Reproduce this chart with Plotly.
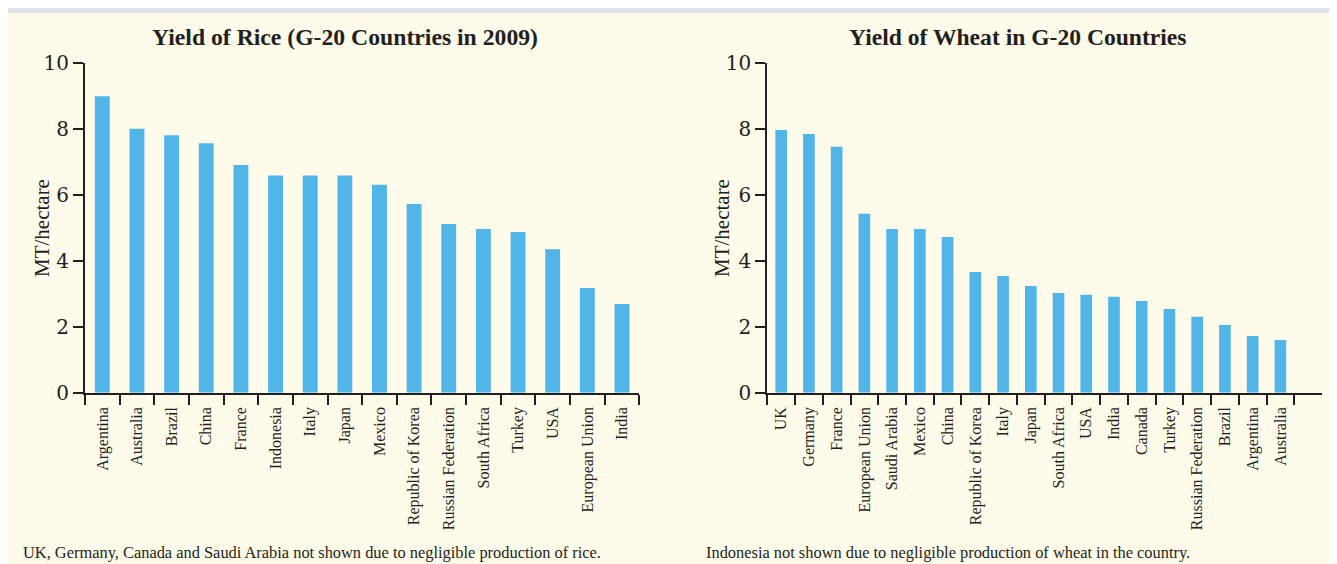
import plotly.graph_objects as go

# ---------------- data ----------------
rice_countries = ["Argentina", "Australia", "Brazil", "China", "France", "Indonesia",
                  "Italy", "Japan", "Mexico", "Republic of Korea", "Russian Federation",
                  "South Africa", "Turkey", "USA", "European Union", "India"]
rice_yield = [8.98, 8.0, 7.8, 7.56, 6.9, 6.58, 6.58, 6.58, 6.3, 5.72, 5.11,
              4.96, 4.87, 4.35, 3.17, 2.69]

wheat_countries = ["UK", "Germany", "France", "European Union", "Saudi Arabia", "Mexico",
                   "China", "Republic of Korea", "Italy", "Japan", "South Africa", "USA",
                   "India", "Canada", "Turkey", "Russian Federation", "Brazil",
                   "Argentina", "Australia"]
wheat_yield = [7.96, 7.84, 7.45, 5.42, 4.96, 4.96, 4.72, 3.66, 3.54, 3.23, 3.02,
               2.97, 2.91, 2.78, 2.54, 2.3, 2.05, 1.72, 1.6]

y_ticks = [0, 2, 4, 6, 8, 10]

rice_title = "Yield of Rice (G-20 Countries in 2009)"
wheat_title = "Yield of Wheat in G-20 Countries"
y_title = "MT/hectare"
rice_note = "UK, Germany, Canada and Saudi Arabia not shown due to negligible production of rice."
wheat_note = "Indonesia not shown due to negligible production of wheat in the country."

# ---------------- style ----------------
# the page body has an 8px margin, so the figure is drawn 8px in from the top-left
OFF = 8
W, H = 1337 - OFF, 564 - OFF
BG = "#FEFBEA"
BAR = "#52B5E8"
INK = "#231F20"
SERIF = "Liberation Serif"
WIDE_SERIF = "DejaVu Serif"


def px(x):  # screen x -> paper fraction
    return (x - OFF) / W


def py(y):  # screen y -> paper fraction
    return 1 - (y - OFF) / H


fig = go.Figure()

fig.add_trace(go.Bar(x=rice_countries, y=rice_yield, marker_color=BAR,
                     marker_line_width=0, width=0.43, xaxis="x", yaxis="y",
                     showlegend=False, hoverinfo="x+y"))
# trailing empty slot on the wheat axis, as in the original
fig.add_trace(go.Bar(x=wheat_countries + [" "], y=wheat_yield + [None], marker_color=BAR,
                     marker_line_width=0, width=0.42, xaxis="x2", yaxis="y2",
                     showlegend=False, hoverinfo="x+y"))

xcommon = dict(type="category", tickson="boundaries", ticks="outside", ticklen=10,
               tickwidth=1.5, tickcolor=INK, showline=True, linecolor=INK, linewidth=2,
               tickangle=-90, tickfont=dict(family=SERIF, size=16, color=INK),
               ticklabelstandoff=6, automargin=False,
               showgrid=False, zeroline=False, fixedrange=True)
ycommon = dict(range=[0, 10], tickvals=y_ticks, ticks="outside", ticklen=10,
               tickwidth=1.5, tickcolor=INK, showline=True, linecolor=INK, linewidth=2,
               tickfont=dict(family=WIDE_SERIF, size=20, color=INK), showgrid=False,
               zeroline=False, fixedrange=True, automargin=False,
               domain=[py(392.7), py(62.7)])

fig.update_layout(
    width=W, height=H, autosize=False,
    margin=dict(l=0, r=0, t=0, b=0, pad=0, autoexpand=False),
    paper_bgcolor=BG, plot_bgcolor=BG,
    xaxis=dict(xcommon, domain=[px(85), px(639.3)], anchor="y",
               range=[-0.5, len(rice_countries) - 0.5]),
    yaxis=dict(ycommon, anchor="x"),
    xaxis2=dict(xcommon, domain=[px(767.3), px(1322)], anchor="y2",
                range=[-0.5, len(wheat_countries) + 0.5]),
    yaxis2=dict(ycommon, anchor="x2"),
    shapes=[
        dict(type="rect", xref="paper", yref="paper", x0=0, x1=1, y0=py(13), y1=1,
             fillcolor="#DEE2E7", line_width=0, layer="below"),
    ],
    annotations=[
        dict(text="<b>" + rice_title + "</b>", xref="paper", yref="paper",
             x=px(344.5), y=py(37), xanchor="center", yanchor="middle", showarrow=False,
             font=dict(family=SERIF, size=23.7, color=INK)),
        dict(text="<b>" + wheat_title + "</b>", xref="paper", yref="paper",
             x=px(1018), y=py(37), xanchor="center", yanchor="middle", showarrow=False,
             font=dict(family=SERIF, size=23.6, color=INK)),
        dict(text=y_title, xref="paper", yref="paper", x=px(42), y=py(228),
             xanchor="center", yanchor="middle", textangle=-90, showarrow=False,
             font=dict(family=SERIF, size=21, color=INK)),
        dict(text=y_title, xref="paper", yref="paper", x=px(722), y=py(228),
             xanchor="center", yanchor="middle", textangle=-90, showarrow=False,
             font=dict(family=SERIF, size=21, color=INK)),
        dict(text=rice_note, xref="paper", yref="paper", x=px(21), y=py(552),
             xanchor="left", yanchor="middle", showarrow=False,
             font=dict(family=SERIF, size=16.4, color=INK)),
        dict(text=wheat_note, xref="paper", yref="paper", x=px(704), y=py(552),
             xanchor="left", yanchor="middle", showarrow=False,
             font=dict(family=SERIF, size=16.4, color=INK)),
    ],
)

fig.write_html("out.html")
